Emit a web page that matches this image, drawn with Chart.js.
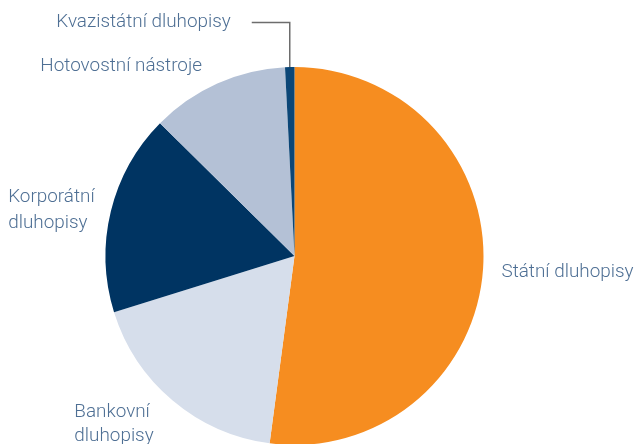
<!DOCTYPE html>
<html><head><meta charset="utf-8">
<script src="https://cdn.jsdelivr.net/npm/chart.js@4"></script>
<style>
html,body{margin:0;padding:0;background:#fff;overflow:hidden;}
#wrap{position:relative;width:639px;height:450px;}
</style></head>
<body>
<div id="wrap"><canvas id="c" width="639" height="450"></canvas></div>
<script>
const categories = ["Státní dluhopisy","Bankovní dluhopisy","Korporátní dluhopisy","Hotovostní nástroje","Kvazistátní dluhopisy"];
const values = [52.1, 18.1, 17.2, 11.8, 0.8];
const labelLines = [["Státní dluhopisy"],["Bankovní","dluhopisy"],["Korporátní","dluhopisy"],["Hotovostní nástroje"],["Kvazistátní dluhopisy"]];
const colors = ["#F68D20","#D6DEEB","#003462","#B4C1D6","#0B4677"];

const TEXT = "#4E6F94";
// label placement relative to pie centre, in units of radius (dx, dy), alignment
const labelPlace = [
  {dx:1.095, dy:0.085, align:"left"},
  {dx:-1.165, dy:0.825, align:"left", lh:24},
  {dx:-1.515, dy:-0.31, align:"left", lh:26},
  {dx:-1.345, dy:-1.005, align:"left"},
  {dx:-1.26, dy:-1.235, align:"left"}
];

const labelPlugin = {
  id:"labels",
  afterDraw(chart){
    const ctx = chart.ctx;
    const meta = chart.getDatasetMeta(0);
    const arc0 = meta.data[0];
    const cx = arc0.x, cy = arc0.y, R = arc0.outerRadius;
    ctx.save();
    ctx.fillStyle = TEXT;
    ctx.font = "300 18.9px Roboto, sans-serif";
    ctx.textBaseline = "middle";
    labelLines.forEach((lines, i) => {
      const p = labelPlace[i];
      ctx.textAlign = p.align;
      const lh = p.lh || 24;
      lines.forEach((t, j) => {
        ctx.fillText(t, cx + p.dx*R, cy + p.dy*R + j*lh);
      });
    });
    // leader line for smallest slice
    const a = meta.data[4];
    const mid = (a.startAngle + a.endAngle)/2;
    const px = cx + Math.cos(mid)*R, py = cy + Math.sin(mid)*R;
    const ty = cy - 1.235*R;
    ctx.strokeStyle = "#6d6d6d";
    ctx.lineWidth = 1.5;
    ctx.beginPath();
    ctx.moveTo(px, py);
    ctx.lineTo(px, ty);
    ctx.lineTo(px - 38, ty);
    ctx.stroke();
    ctx.restore();
  }
};

new Chart(document.getElementById("c"), {
  type:"pie",
  data:{labels:categories, datasets:[{data:values, backgroundColor:colors, borderWidth:0, hoverOffset:0}]},
  options:{
    responsive:false, animation:false,
    layout:{padding:{top:67,bottom:5,left:105.5,right:155.5}},
    plugins:{legend:{display:false}, tooltip:{enabled:false}}
  },
  plugins:[labelPlugin]
});
</script>
</body></html>
